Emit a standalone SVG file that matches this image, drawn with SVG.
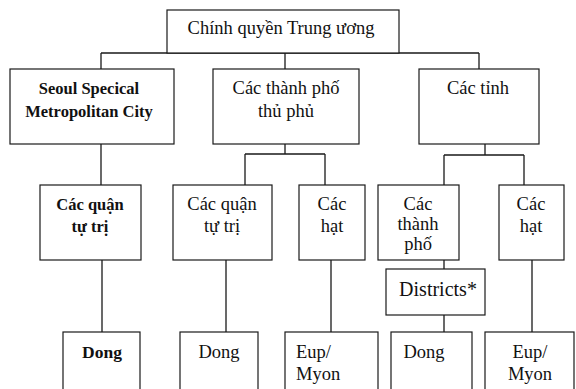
<svg xmlns="http://www.w3.org/2000/svg" width="576" height="389" viewBox="0 0 576 389">
<style>
.box{fill:#fff;stroke:#1a1a1a;stroke-width:1.2}
.ln{stroke:#1a1a1a;stroke-width:1.3;fill:none}
text{font-family:"Liberation Serif","Times New Roman",serif;font-size:18.5px;fill:#111;text-anchor:middle}
.b{font-weight:bold;font-size:16.5px}
.s{text-anchor:start}
</style>
<rect width="576" height="389" fill="#fff"/>
<g id="connectors">
<path class="ln" d="M101,53H479M101,53V69M285,53V69M479,53V69"/>
<path class="ln" d="M101,144V185"/>
<path class="ln" d="M285,144V154M245,154H325M245,154V185M325,154V185"/>
<path class="ln" d="M485,144V155M444,155H524M444,155V185M524,155V185"/>
<path class="ln" d="M102,260V332M226,260V332M331,260V332M532,260V332"/>
<path class="ln" d="M444,260V269M444,315V332"/>
</g>
<g id="central">
<rect class="box" x="167" y="10" width="232" height="43"/>
<text x="281" y="34">Chính quyền Trung ương</text>
</g>
<g id="seoul">
<rect class="box" x="10" y="69" width="164" height="75"/>
<text class="b" x="89" y="94">Seoul Specical</text>
<text class="b" x="89" y="117">Metropolitan City</text>
</g>
<g id="thanhphothuphu">
<rect class="box" x="213" y="69" width="146" height="75"/>
<text x="286" y="94">Các thành phố</text>
<text x="286" y="117">thủ phủ</text>
</g>
<g id="tinh">
<rect class="box" x="419" y="69" width="120" height="75"/>
<text x="478" y="94">Các tỉnh</text>
</g>
<g id="quan1">
<rect class="box" x="40" y="185" width="101" height="75"/>
<text class="b" x="90" y="210">Các quận</text>
<text class="b" x="90" y="232">tự trị</text>
</g>
<g id="quan2">
<rect class="box" x="173" y="185" width="99" height="75"/>
<text x="222" y="210">Các quận</text>
<text x="222" y="232">tự trị</text>
</g>
<g id="hat1">
<rect class="box" x="299" y="185" width="66" height="75"/>
<text x="332" y="210">Các</text>
<text x="332" y="232">hạt</text>
</g>
<g id="thanhpho">
<rect class="box" x="378" y="185" width="81" height="75"/>
<text x="418" y="210">Các</text>
<text x="418" y="230">thành</text>
<text x="418" y="250">phố</text>
</g>
<g id="hat2">
<rect class="box" x="499" y="185" width="65" height="75"/>
<text x="531" y="210">Các</text>
<text x="531" y="232">hạt</text>
</g>
<g id="districts">
<rect class="box" x="386" y="269" width="99" height="46"/>
<text x="438" y="296" style="font-size:20px">Districts*</text>
</g>
<g id="dong1">
<rect class="box" x="63" y="332" width="77" height="62"/>
<text class="b" x="102" y="358" style="font-size:17.5px">Dong</text>
</g>
<g id="dong2">
<rect class="box" x="180" y="332" width="78" height="62"/>
<text x="219" y="358">Dong</text>
</g>
<g id="eup1">
<rect class="box" x="285" y="332" width="93" height="62"/>
<text class="s" x="296" y="358">Eup/</text>
<text class="s" x="296" y="380">Myon</text>
</g>
<g id="dong3">
<rect class="box" x="391" y="332" width="81" height="62"/>
<text x="424" y="358">Dong</text>
</g>
<g id="eup2">
<rect class="box" x="485" y="332" width="89" height="62"/>
<text x="530" y="358">Eup/</text>
<text x="530" y="380">Myon</text>
</g>
</svg>
